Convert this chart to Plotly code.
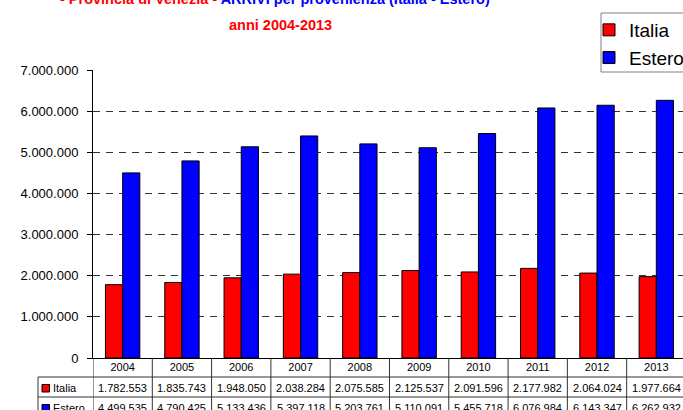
import plotly.graph_objects as go

years = ["2004", "2005", "2006", "2007", "2008", "2009", "2010", "2011", "2012", "2013"]
italia = [1782553, 1835743, 1948050, 2038284, 2075585, 2125537, 2091596, 2177982, 2064024, 1977664]
estero = [4499535, 4790425, 5133436, 5397118, 5203761, 5110091, 5455718, 6076984, 6143347, 6262932]
yticks = [0, 1000000, 2000000, 3000000, 4000000, 5000000, 6000000, 7000000]

RED = "#FF0000"
BLUE = "#0000FF"
W, H = 683, 410
L, R, T, B = 93, 0, 70, 52
PH = H - T - B
PW = W - L - R


def py(px):
    return (H - B - px) / PH


def pxx(px):
    return (px - L) / PW


def fmt(v):
    return f"{v:,}".replace(",", ".")


fig = go.Figure()
fig.add_trace(go.Bar(x=years, y=italia, name="Italia", marker=dict(color=RED, line=dict(color="black", width=1))))
fig.add_trace(go.Bar(x=years, y=estero, name="Estero", marker=dict(color=BLUE, line=dict(color="black", width=1))))

shapes = []
annotations = []
grid_col = "#333333"
# table horizontal lines
for ypx in (377, 397):
    shapes.append(dict(type="line", xref="paper", yref="paper", x0=pxx(38), x1=1.02, y0=py(ypx), y1=py(ypx),
                       line=dict(color=grid_col, width=1)))
# table vertical lines at category boundaries
for i in range(len(years) + 1):
    shapes.append(dict(type="line", xref="x", yref="paper", x0=i - 0.5, x1=i - 0.5, y0=0, y1=py(425),
                       line=dict(color=grid_col, width=1)))
shapes.append(dict(type="line", xref="paper", yref="paper", x0=pxx(38), x1=pxx(38), y0=py(377), y1=py(425),
                   line=dict(color=grid_col, width=1)))

rows = [("Italia", italia, RED, 388), ("Estero", estero, BLUE, 408)]
for name, vals, col, cy in rows:
    shapes.append(dict(type="rect", xref="paper", yref="paper", x0=pxx(42), x1=pxx(49.5),
                       y0=py(cy - 3.5), y1=py(cy + 4), fillcolor=col, line=dict(color="black", width=1)))
    annotations.append(dict(xref="paper", yref="paper", x=pxx(50.5), y=py(cy), text=name, showarrow=False,
                            xanchor="left", yanchor="middle", font=dict(size=11, color="black")))
    for i, v in enumerate(vals):
        annotations.append(dict(xref="x", yref="paper", x=i, y=py(cy), text=fmt(v), showarrow=False,
                                xanchor="center", yanchor="middle", font=dict(size=11, color="black")))

# legend frame
shapes.append(dict(type="rect", xref="paper", yref="paper", x0=pxx(601), x1=pxx(700), y0=py(13), y1=py(72),
                   fillcolor="white", line=dict(color="#808080", width=1), layer="above"))

title_font = dict(family="Liberation Sans, Arial, sans-serif", size=14.5, color=RED)
annotations.append(dict(xref="paper", yref="paper", x=pxx(275), y=py(-1),
                        text=f"<b>- Provincia di Venezia - <span style='color:{BLUE}'>ARRIVI per provenienza (Italia - Estero)</span></b>",
                        showarrow=False, xanchor="center", yanchor="middle", font=title_font))
annotations.append(dict(xref="paper", yref="paper", x=pxx(280), y=py(25),
                        text="<b>anni 2004-2013</b>", showarrow=False, xanchor="center", yanchor="middle",
                        font=title_font))

fig.update_layout(
    width=W, height=H,
    margin=dict(l=L, r=R, t=T, b=B, autoexpand=False),
    paper_bgcolor="white", plot_bgcolor="white",
    font=dict(family="Liberation Sans, Arial, sans-serif", color="black"),
    separators=",.",
    barmode="group", bargap=0.42, bargroupgap=0,
    showlegend=True,
    legend=dict(x=pxx(589), y=py(11), xanchor="left", yanchor="top", bgcolor="rgba(0,0,0,0)",
                borderwidth=0, font=dict(size=19, color="black"), itemwidth=30),
    shapes=shapes,
    annotations=annotations,
    xaxis=dict(type="category", range=[-0.5, 9.45], showline=True, linecolor="black", linewidth=1,
               ticks="", showgrid=False, tickfont=dict(size=11, color="black"), ticklabelstandoff=-1,
               automargin=False),
    yaxis=dict(range=[0, 7000000], tickvals=yticks, tickformat=",d", showline=True, linecolor="black",
               linewidth=1, ticks="outside", ticklen=5, tickcolor="black", tickfont=dict(size=13, color="black"),
               ticklabelstandoff=6, showgrid=True, gridcolor="#333333", gridwidth=1, griddash="7px,6px",
               zeroline=False, automargin=False),
)

fig.write_html("out.html", config={"displayModeBar": False},
               post_script="document.body.style.margin='0';")
